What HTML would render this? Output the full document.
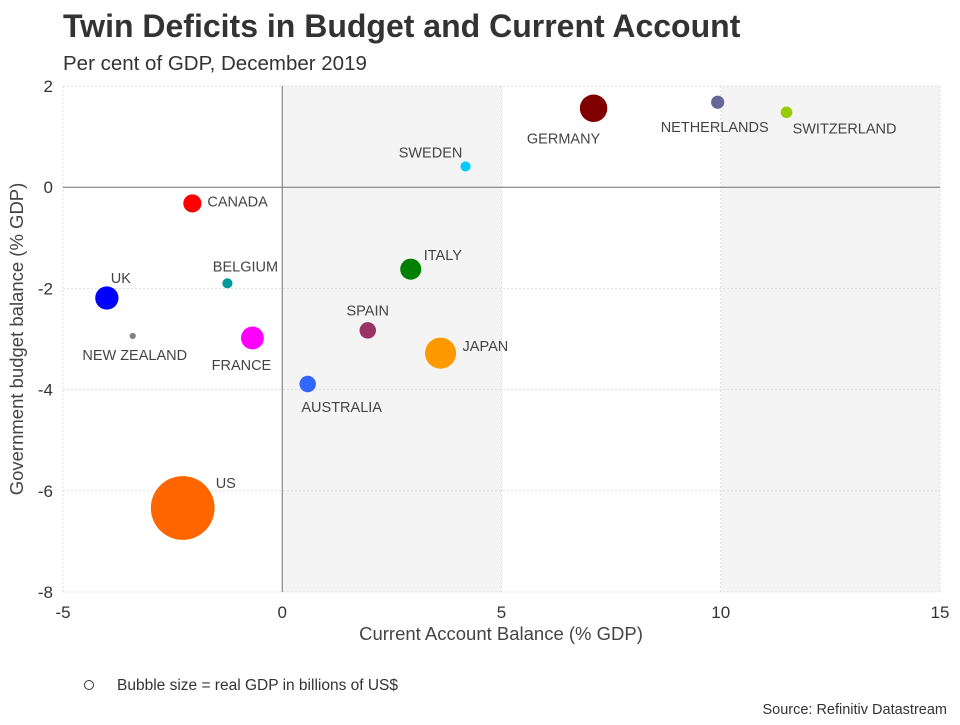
<!DOCTYPE html>
<html><head><meta charset="utf-8"><style>
body{margin:0;background:#fff;font-family:"Liberation Sans",sans-serif;}
svg text{font-family:"Liberation Sans",sans-serif;}
</style></head><body>
<svg id="c" width="960" height="720">
<text x="63" y="37" font-size="32" font-weight="bold" fill="#333">Twin Deficits in Budget and Current Account</text>
<text x="63" y="70" font-size="20.5" fill="#333">Per cent of GDP, December 2019</text>
<g id="plot"></g>
<text x="501" y="640" font-size="18.5" fill="#444" text-anchor="middle">Current Account Balance (% GDP)</text>
<text transform="translate(23,339) rotate(-90)" font-size="18.5" fill="#444" text-anchor="middle">Government budget balance (% GDP)</text>
<circle cx="89" cy="685" r="4.5" fill="none" stroke="#333" stroke-width="1"/>
<text x="117" y="690" font-size="15.5" fill="#333">Bubble size = real GDP in billions of US$</text>
<text x="947" y="714" font-size="14.5" fill="#333" text-anchor="end">Source: Refinitiv Datastream</text>
</svg>
<script>
const countries=["GERMANY","NETHERLANDS","SWITZERLAND","SWEDEN","CANADA","ITALY","BELGIUM","UK","NEW ZEALAND","FRANCE","SPAIN","JAPAN","AUSTRALIA","US"];
const currentAccount=[7.1,9.93,11.5,4.18,-2.05,2.93,-1.25,-4.0,-3.41,-0.68,1.95,3.61,0.58,-2.27];
const budgetBalance=[1.56,1.68,1.48,0.41,-0.32,-1.62,-1.9,-2.19,-2.94,-2.98,-2.83,-3.28,-3.89,-6.34];
const gdp=[3900,900,700,530,1700,2300,530,2800,200,2700,1400,5000,1400,21000];
const colors=["#800000","#666699","#99cc00","#00ccff","#ff0000","#008000","#009999","#0000ff","#808080","#ff00ff","#993366","#ff9900","#3366ff","#ff6600"];
const xTicks=[-5,0,5,10,15];
const yTicks=[2,0,-2,-4,-6,-8];
const lab=[[-30,30,"middle"],[-3,25,"middle"],[58,16,"middle"],[-35,-14,"middle"],[15,-2,"start"],[13,-14,"start"],[18,-17,"middle"],[14,-20,"middle"],[2,19,"middle"],[-11,27,"middle"],[0,-20,"middle"],[22,-7,"start"],[34,23,"middle"],[33,-25,"start"]];
const X0=63,X1=940,Y0=86,Y1=592;
const sx=v=>X0+(v+5)/20*(X1-X0), sy=v=>Y0+(2-v)/10*(Y1-Y0);
const NS="http://www.w3.org/2000/svg", g=document.getElementById('plot');
function mk(t,a){const e=document.createElementNS(NS,t);for(const k in a)e.setAttribute(k,a[k]);g.appendChild(e);return e;}
let e;
[[0,5],[10,15]].forEach(b=>{e=mk('rect',{x:sx(b[0]),y:Y0,width:sx(b[1])-sx(b[0]),height:Y1-Y0,fill:'#f4f4f4'});

});
xTicks.forEach(t=>{e=mk('line',{x1:sx(t),x2:sx(t),y1:Y0,y2:Y1,stroke:'#ddd','stroke-dasharray':'2,2'});


e=mk('text',{x:sx(t),y:Y1+26,'font-size':17,fill:'#333','text-anchor':'middle'});e.textContent=t;

});
yTicks.forEach(t=>{e=mk('line',{x1:X0,x2:X1,y1:sy(t),y2:sy(t),stroke:'#ddd','stroke-dasharray':'2,2'});


e=mk('text',{x:X0-10,y:sy(t)+6,'font-size':17,fill:'#333','text-anchor':'end'});e.textContent=t;

});
e=mk('line',{x1:sx(0),x2:sx(0),y1:Y0,y2:Y1,stroke:'#777'});


e=mk('line',{x1:X0,x2:X1,y1:sy(0),y2:sy(0),stroke:'#777'});


countries.forEach((c,i)=>{const cx=sx(currentAccount[i]),cy=sy(budgetBalance[i]);
e=mk('circle',{cx:cx,cy:cy,r:0.22*Math.sqrt(gdp[i]),fill:colors[i]});


e=mk('text',{x:cx+lab[i][0],y:cy+lab[i][1]+5,'font-size':14.5,fill:'#444','text-anchor':lab[i][2]});e.textContent=c;

});
</script>
</body></html>
